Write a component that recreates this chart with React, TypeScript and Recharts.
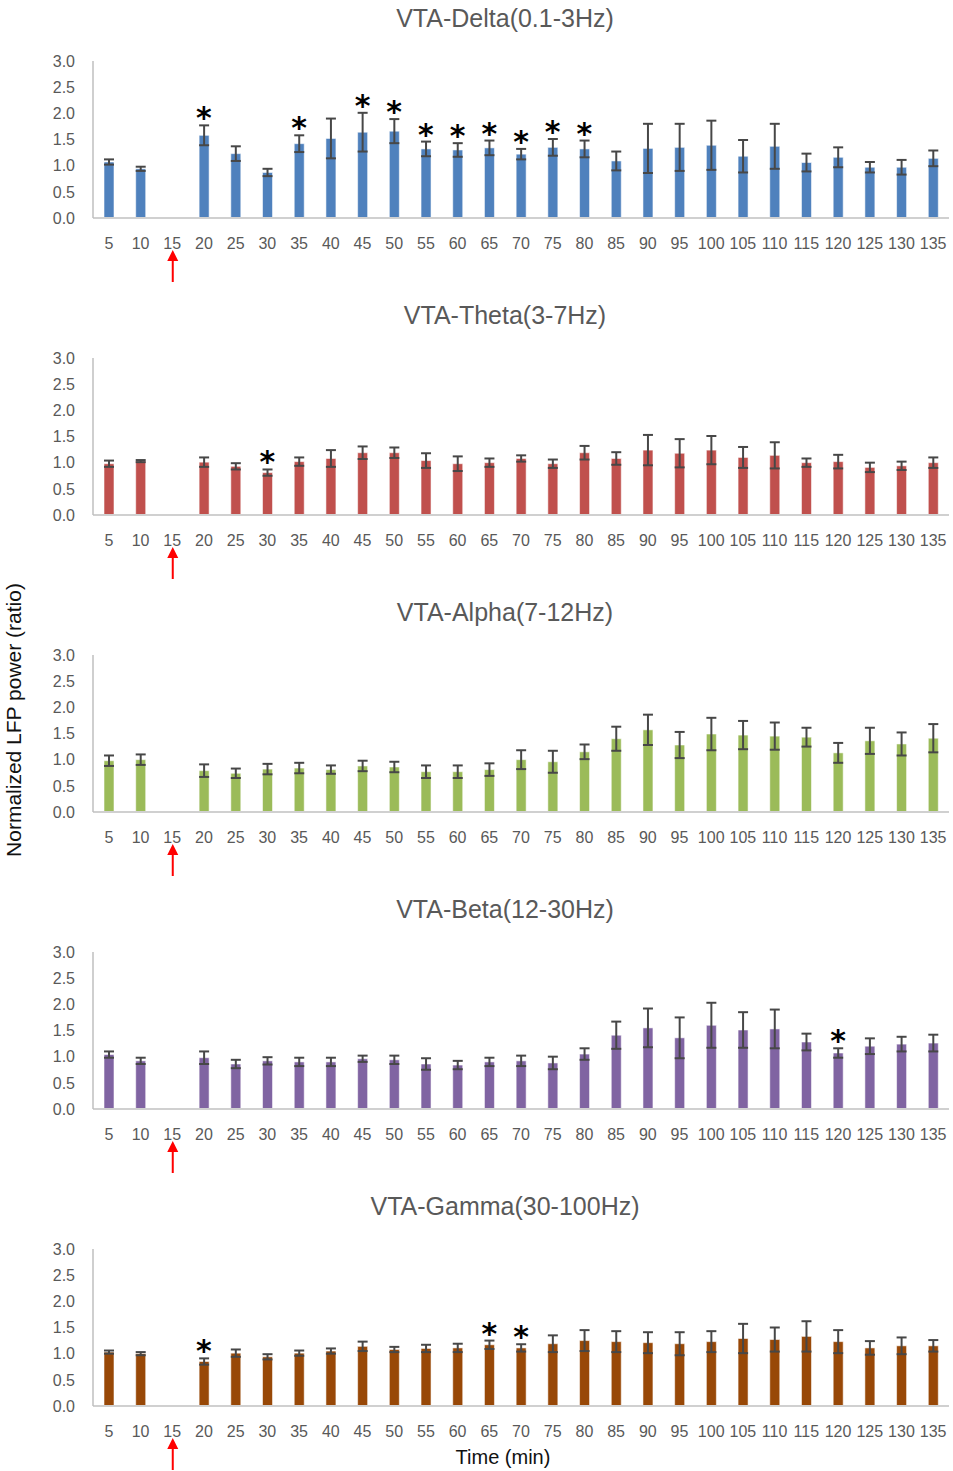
import React from "react";
import { ComposedChart, Bar, ErrorBar, Scatter, XAxis, YAxis } from "recharts";

// time bins (min); 15 is the injection bin and has no recording
const times = ["5", "10", "15", "20", "25", "30", "35", "40", "45", "50", "55", "60", "65", "70", "75", "80", "85", "90", "95", "100", "105", "110", "115", "120", "125", "130", "135"];
const INJECTION_TIME = "15";
const yTicks = [0, 0.5, 1, 1.5, 2, 2.5, 3];

const delta = [1.07, 0.94, null, 1.58, 1.23, 0.87, 1.42, 1.52, 1.64, 1.66, 1.32, 1.3, 1.34, 1.22, 1.35, 1.32, 1.09, 1.33, 1.35, 1.39, 1.18, 1.37, 1.06, 1.16, 0.97, 0.97, 1.14];
const deltaErr = [0.05, 0.04, null, 0.19, 0.14, 0.07, 0.16, 0.38, 0.37, 0.23, 0.14, 0.13, 0.14, 0.1, 0.16, 0.16, 0.18, 0.47, 0.45, 0.47, 0.31, 0.43, 0.17, 0.19, 0.1, 0.14, 0.15];
const deltaSig = ["20", "35", "45", "50", "55", "60", "65", "70", "75", "80"];

const theta = [0.98, 1.03, null, 1.01, 0.93, 0.81, 1.02, 1.08, 1.19, 1.19, 1.04, 0.98, 1.0, 1.08, 0.98, 1.19, 1.08, 1.24, 1.18, 1.24, 1.1, 1.14, 1.0, 1.02, 0.91, 0.94, 1.0];
const thetaErr = [0.06, 0.02, null, 0.09, 0.06, 0.06, 0.08, 0.16, 0.12, 0.1, 0.14, 0.14, 0.08, 0.06, 0.08, 0.13, 0.12, 0.29, 0.27, 0.27, 0.2, 0.25, 0.08, 0.13, 0.09, 0.08, 0.1];
const thetaSig = ["30"];

const alpha = [0.98, 1.0, null, 0.79, 0.74, 0.82, 0.84, 0.81, 0.88, 0.86, 0.77, 0.77, 0.81, 1.0, 0.96, 1.15, 1.4, 1.57, 1.28, 1.49, 1.47, 1.45, 1.43, 1.13, 1.36, 1.3, 1.41];
const alphaErr = [0.1, 0.1, null, 0.12, 0.09, 0.1, 0.1, 0.08, 0.1, 0.1, 0.12, 0.12, 0.12, 0.18, 0.21, 0.14, 0.23, 0.29, 0.25, 0.31, 0.27, 0.26, 0.18, 0.19, 0.25, 0.22, 0.27];
const alphaSig: string[] = [];

const beta = [1.04, 0.92, null, 0.98, 0.86, 0.92, 0.9, 0.9, 0.96, 0.94, 0.86, 0.84, 0.9, 0.92, 0.88, 1.05, 1.41, 1.55, 1.36, 1.6, 1.51, 1.53, 1.28, 1.07, 1.2, 1.24, 1.26];
const betaErr = [0.06, 0.06, null, 0.12, 0.08, 0.07, 0.08, 0.08, 0.06, 0.08, 0.11, 0.08, 0.08, 0.1, 0.12, 0.11, 0.26, 0.37, 0.39, 0.43, 0.34, 0.37, 0.16, 0.09, 0.15, 0.14, 0.16];
const betaSig = ["120"];

const gamma = [1.03, 1.0, null, 0.85, 1.01, 0.94, 1.01, 1.05, 1.14, 1.08, 1.1, 1.11, 1.17, 1.11, 1.19, 1.25, 1.23, 1.21, 1.19, 1.23, 1.29, 1.27, 1.33, 1.23, 1.11, 1.15, 1.15];
const gammaErr = [0.03, 0.03, null, 0.06, 0.07, 0.05, 0.05, 0.05, 0.09, 0.05, 0.07, 0.08, 0.08, 0.07, 0.16, 0.2, 0.2, 0.2, 0.22, 0.2, 0.28, 0.23, 0.29, 0.22, 0.13, 0.16, 0.11];
const gammaSig = ["20", "65", "70"];

const bands = [
  { title: "VTA-Delta(0.1-3Hz)", values: delta, errors: deltaErr, sig: deltaSig, color: "#4F81BD" },
  { title: "VTA-Theta(3-7Hz)", values: theta, errors: thetaErr, sig: thetaSig, color: "#C0504D" },
  { title: "VTA-Alpha(7-12Hz)", values: alpha, errors: alphaErr, sig: alphaSig, color: "#9BBB59" },
  { title: "VTA-Beta(12-30Hz)", values: beta, errors: betaErr, sig: betaSig, color: "#8064A2" },
  { title: "VTA-Gamma(30-100Hz)", values: gamma, errors: gammaErr, sig: gammaSig, color: "#984807" },
];

const FONT = "'Liberation Sans', Arial, sans-serif";
const GREY = "#595959";
const PANEL_H = 297;

function TimeTick({ x, y, payload }: any) {
  return (
    <g>
      <text x={x} y={y} dy="0.71em" textAnchor="middle" fill={GREY} fontSize={16} fontFamily={FONT}>
        {payload.value}
      </text>
      {payload.value === INJECTION_TIME && (
        <g>
          <line x1={x + 0.5} x2={x + 0.5} y1={y + 21} y2={y + 44} stroke="#FF0000" strokeWidth={2} />
          <polygon points={`${x + 0.5},${y + 12} ${x - 5},${y + 23} ${x + 6},${y + 23}`} fill="#FF0000" />
        </g>
      )}
    </g>
  );
}

// significance mark sits just above the top of the error bar
function Star({ cx, cy, payload }: any) {
  if (payload == null || payload.star == null) return <g />;
  return (
    <text x={cx} y={cy + 3} textAnchor="middle" fontSize={30} fontWeight="bold" fontFamily="'DejaVu Sans', sans-serif" fill="#000">
      *
    </text>
  );
}

function BandChart({ band }: { band: (typeof bands)[number] }) {
  const rows = times.map((t, i) => ({
    time: t,
    value: band.values[i],
    err: band.errors[i],
    star: band.sig.includes(t) && band.values[i] != null ? (band.values[i] as number) + (band.errors[i] as number) : null,
  }));
  return (
    <ComposedChart width={953} height={PANEL_H} data={rows} margin={{ top: 61, right: 4, left: 0, bottom: 0 }}>
      <XAxis
        dataKey="time"
        interval={0}
        height={79}
        tickLine={false}
        tickMargin={14}
        axisLine={{ stroke: "#d0d0d0", strokeWidth: 2 }}
        tick={<TimeTick />}
      />
      <YAxis
        domain={[0, 3]}
        ticks={yTicks}
        interval={0}
        width={93}
        tickLine={false}
        tickMargin={12}
        tickFormatter={(v: number) => v.toFixed(1)}
        axisLine={{ stroke: "#bfbfbf", strokeWidth: 1.5 }}
        tick={{ fill: GREY, fontSize: 16, fontFamily: FONT }}
      />
      <Bar dataKey="value" barSize={10} fill={band.color} stroke="rgba(255,255,255,0.55)" strokeWidth={1} isAnimationActive={false}>
        <ErrorBar dataKey="err" direction="y" width={5} stroke="#474747" strokeWidth={2} isAnimationActive={false} />
      </Bar>
      <Scatter dataKey="star" shape={<Star />} isAnimationActive={false} />
    </ComposedChart>
  );
}

export default function App() {
  return (
    <div style={{ position: "absolute", left: 0, top: 0, width: 953, height: 1471, overflow: "hidden", background: "#fff", fontFamily: FONT }}>
      {bands.map((band, i) => (
        <div key={band.title} style={{ position: "absolute", left: 0, top: i * PANEL_H, width: 953, height: PANEL_H }}>
          <BandChart band={band} />
          <div
            style={{
              position: "absolute",
              left: 505,
              top: 18,
              transform: "translate(-50%, -50%)",
              whiteSpace: "nowrap",
              fontSize: 25,
              lineHeight: "28px",
              color: GREY,
            }}
          >
            {band.title}
          </div>
        </div>
      ))}
      <div
        style={{
          position: "absolute",
          left: 14,
          top: 720,
          transform: "translate(-50%, -50%) rotate(-90deg)",
          whiteSpace: "nowrap",
          fontSize: 21,
          lineHeight: "24px",
          color: "#111",
        }}
      >
        Normalized LFP power (ratio)
      </div>
      <div
        style={{
          position: "absolute",
          left: 503,
          top: 1457,
          transform: "translate(-50%, -50%)",
          whiteSpace: "nowrap",
          fontSize: 20,
          lineHeight: "24px",
          color: "#111",
        }}
      >
        Time (min)
      </div>
    </div>
  );
}
